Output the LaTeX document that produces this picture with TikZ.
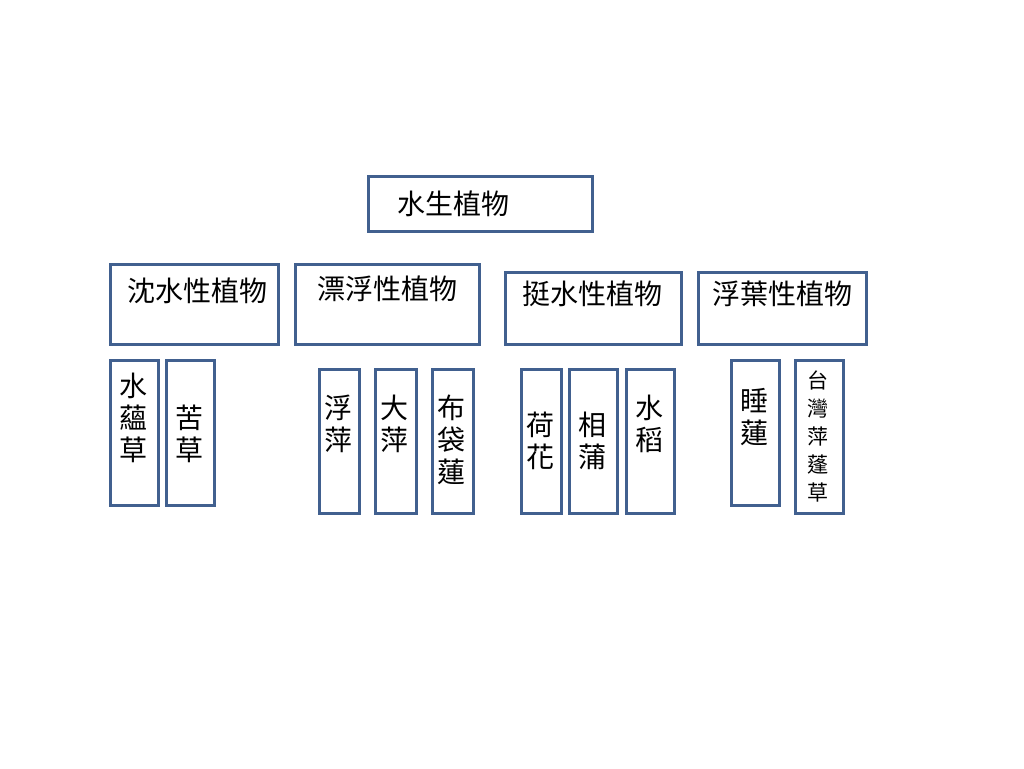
\documentclass[tikz,border=0pt]{standalone}
\usepackage{fontspec}
\newfontfamily\cjk{Noto Sans CJK TC}
\definecolor{edge}{HTML}{41608F}
\tikzset{
  box/.style={draw=edge, line width=2.6pt, fill=white, inner sep=0pt, anchor=north west},
  lbl/.style={font=\cjk\fontsize{28}{32}\selectfont, inner sep=0pt, align=center, text=black},
  slbl/.style={font=\cjk\fontsize{21}{28}\selectfont, inner sep=0pt, align=center, text=black}
}
\begin{document}
\begin{tikzpicture}[x=1pt,y=-1pt]
\useasboundingbox[fill=white] (0,0) rectangle (1024,768);
% top
\node[box, minimum width=224pt, minimum height=55pt] (root) at (367,175) {};
\node[lbl, anchor=west] (rootT) at (397,204) {水生植物};
% categories
\node[box, minimum width=168pt, minimum height=80pt] (c1) at (109,263) {};
\node[lbl] (c1T) at (197,291) {沈水性植物};
\node[box, minimum width=184pt, minimum height=80pt] (c2) at (294,263) {};
\node[lbl] (c2T) at (387,289) {漂浮性植物};
\node[box, minimum width=176pt, minimum height=72pt] (c3) at (504,271) {};
\node[lbl] (c3T) at (592,294) {挺水性植物};
\node[box, minimum width=168pt, minimum height=72pt] (c4) at (697,271) {};
\node[lbl] (c4T) at (782,294) {浮葉性植物};
% leaves
\node[box, minimum width=48pt, minimum height=145pt] (l1) at (109,359) {};
\node[lbl, anchor=north] (l1T) at (133,373) {水\\蘊\\草};
\node[box, minimum width=48pt, minimum height=145pt] (l2) at (165,359) {};
\node[lbl, anchor=north] (l2T) at (189,405) {苦\\草};
\node[box, minimum width=40pt, minimum height=144pt] (l3) at (318,368) {};
\node[lbl, anchor=north] (l3T) at (338,395) {浮\\萍};
\node[box, minimum width=41pt, minimum height=144pt] (l4) at (374,368) {};
\node[lbl, anchor=north] (l4T) at (394.5,395) {大\\萍};
\node[box, minimum width=41pt, minimum height=144pt] (l5) at (431,368) {};
\node[lbl, anchor=north] (l5T) at (451.5,395) {布\\袋\\蓮};
\node[box, minimum width=40pt, minimum height=144pt] (l6) at (520,368) {};
\node[lbl, anchor=north] (l6T) at (540,412) {荷\\花};
\node[box, minimum width=48pt, minimum height=144pt] (l7) at (568,368) {};
\node[lbl, anchor=north] (l7T) at (592,412) {相\\蒲};
\node[box, minimum width=48pt, minimum height=144pt] (l8) at (625,368) {};
\node[lbl, anchor=north] (l8T) at (649,395) {水\\稻};
\node[box, minimum width=48pt, minimum height=145pt] (l9) at (730,359) {};
\node[lbl, anchor=north] (l9T) at (754,388) {睡\\蓮};
\node[box, minimum width=48pt, minimum height=153pt] (l10) at (794,359) {};
\node[slbl, anchor=north] (l10T) at (818,371) {台\\灣\\萍\\蓬\\草};
\end{tikzpicture}
\end{document}
